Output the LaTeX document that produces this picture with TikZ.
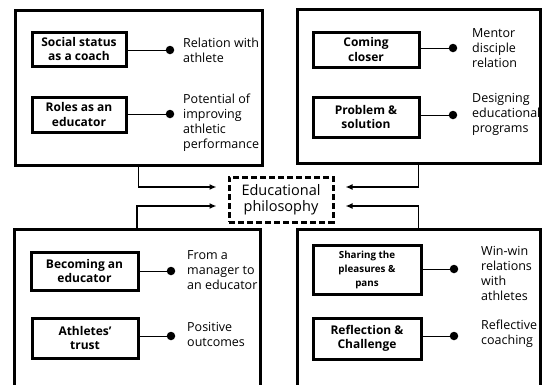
\documentclass[tikz,border=0pt]{standalone}
\usepackage{fontspec}
\setmainfont{Open Sans}
\usetikzlibrary{positioning, arrows.meta}
\begin{document}
\begin{tikzpicture}[x=1pt, y=-1pt, >={Latex[length=7pt, width=6pt]},
    group/.style={rectangle, draw, line width=3pt, inner sep=0pt},
    factor/.style={rectangle, draw, line width=3pt, inner sep=0pt, align=center, font=\fontsize{12}{14.5}\selectfont\bfseries},
    philo/.style={rectangle, draw, line width=3pt, dash pattern=on 6pt off 3pt, align=center, minimum width=104pt, minimum height=45pt, inner sep=0pt, font=\fontsize{14.5}{16}\selectfont},
    dot/.style={circle, fill, inner sep=0pt, minimum size=8.5pt},
    note/.style={anchor=west, align=left, inner sep=0pt, font=\fontsize{12.5}{15}\selectfont}]
    \clip (0,0) rectangle (542,384);

    % four groups and the centre
    \node[group, minimum width=247pt, minimum height=155pt](g1) at (138.5,87.5){};
    \node[group, minimum width=243pt, minimum height=154pt](g2) at (418.5,86){};
    \node[group, minimum width=246pt, minimum height=160pt](g3) at (137,309){};
    \node[group, minimum width=243pt, minimum height=160pt](g4) at (418.5,309){};
    \node[philo](phil) at (281,199.5){Educational\\philosophy};

    % factors
    \node[factor, minimum width=94pt, minimum height=34pt](status) at (79,49){Social status\\as a coach};
    \node[factor, minimum width=94pt, minimum height=35pt](roles) at (79,114.5){Roles as an\\educator};
    \node[factor, minimum width=106pt, minimum height=35pt](closer) at (366,49.5){Coming\\closer};
    \node[factor, minimum width=106pt, minimum height=40pt](problem) at (366,117){Problem \&\\solution};
    \node[factor, minimum width=107pt, minimum height=38pt](becoming) at (84.5,271){Becoming an\\educator};
    \node[factor, minimum width=106pt, minimum height=40pt](trust) at (85,338){Athletes'\\trust};
    \node[factor, minimum width=108pt, minimum height=49pt, font=\fontsize{9.8}{14}\selectfont\bfseries](sharing) at (367,269.5){Sharing the\\pleasures \&\\pans};
    \node[factor, minimum width=108pt, minimum height=41pt](reflection) at (367,338.5){Reflection \&\\Challenge};

    % dots
    \node[dot](d1) at (170,50){};
    \node[dot](d2) at (170,114){};
    \node[dot](d3) at (453,48){};
    \node[dot](d4) at (453,115){};
    \node[dot](d5) at (171,271){};
    \node[dot](d6) at (171,336){};
    \node[dot](d7) at (454,269){};
    \node[dot](d8) at (454,336){};

    % notes
    \node[note](t1) at (183,50){Relation with\\athlete};
    \node[note](t2) at (183,122.5){Potential of\\improving\\athletic\\performance};
    \node[note](t3) at (472,48.5){Mentor\\disciple\\relation};
    \node[note](t4) at (472,114.5){Designing\\educational\\programs};
    \node[note](t5) at (187,270.5){From a\\manager to\\an educator};
    \node[note](t6) at (187,334){Positive\\outcomes};
    \node[note](t7) at (481,273.5){Win-win\\relations\\with\\athletes};
    \node[note](t8) at (481,333.5){Reflective\\coaching};

\foreach \s/\t in {status/d1, roles/d2, closer/d3, problem/d4, becoming/d5, trust/d6, sharing/d7, reflection/d8}{
    \draw[line width=1pt] (\t) -- (\t -| \s.east);}
\foreach \s/\a/\o in {g1.south/west/12.5pt, g2.south/east/12.5pt, g3.north/west/-6.5pt, g4.north/east/-6.5pt}{
    \draw[->, line width=1.6pt, shorten >=11pt] (\s) |- ([yshift=\o]phil.\a);}
\end{tikzpicture}
\end{document}
